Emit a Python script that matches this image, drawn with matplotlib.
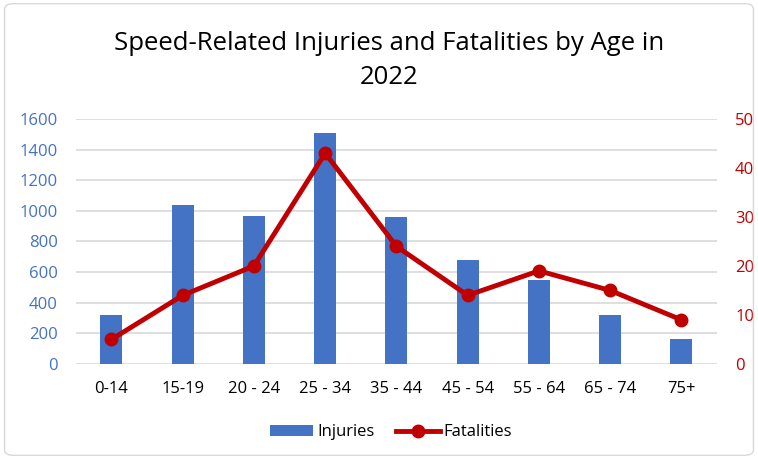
import matplotlib.pyplot as plt
import numpy as np
from matplotlib.patches import FancyBboxPatch

age_groups = ["0-14", "15-19", "20 - 24", "25 - 34", "35 - 44", "45 - 54", "55 - 64", "65 - 74", "75+"]
injuries = [320, 1036, 967, 1509, 960, 681, 549, 318, 163]
fatalities = [5, 14, 20, 43, 24, 14, 19, 15, 9]

blue = "#4472C4"
red = "#C00000"

plt.rcParams['font.family'] = ['Open Sans', 'DejaVu Sans']

fig = plt.figure(figsize=(7.58, 4.59), dpi=100)

ax = fig.add_axes([0.100, 0.207, 0.846, 0.534])
x = np.arange(len(age_groups))
bars = ax.bar(x, injuries, width=0.31, color=blue, label="Injuries", zorder=2)
ax.set_ylim(0, 1600)
ax.set_yticks(range(0, 1601, 200))
ax.set_xlim(-0.5, len(age_groups) - 0.5)
ax.set_xticks(x)
ax.set_xticklabels(age_groups, fontsize=12)
ax.tick_params(axis='y', colors=blue, labelsize=12, length=0, pad=13)
ax.tick_params(axis='x', length=0, pad=12)
ax.grid(axis='y', color="#D9D9D9", linewidth=1.2, zorder=0)
for s in ax.spines.values():
    s.set_visible(False)

ax2 = ax.twinx()
line, = ax2.plot(x, fatalities, color=red, linewidth=3.5, marker='o', markersize=9, label="Fatalities", zorder=3)
ax2.set_ylim(0, 50)
ax2.set_yticks(range(0, 51, 10))
ax2.tick_params(axis='y', colors=red, labelsize=12, length=0, pad=13)
for s in ax2.spines.values():
    s.set_visible(False)

fig.text(0.513, 0.905, "Speed-Related Injuries and Fatalities by Age in", ha='center', va='center', fontsize=18.5)
fig.text(0.513, 0.832, "2022", ha='center', va='center', fontsize=18.5)

fig.legend([bars, line], ["Injuries", "Fatalities"], loc='center', bbox_to_anchor=(0.516, 0.058),
           ncol=2, frameon=False, fontsize=12, handlelength=2.6, columnspacing=1.3, handletextpad=0.25)

# thin rounded frame around the chart
frame = FancyBboxPatch((0.006, 0.008), 0.988, 0.984, boxstyle="round,pad=0,rounding_size=0.012",
                       transform=fig.transFigure, facecolor="none", edgecolor="#D9D9D9", linewidth=1, zorder=10)
fig.add_artist(frame)

fig.savefig("out.png", dpi=100)
